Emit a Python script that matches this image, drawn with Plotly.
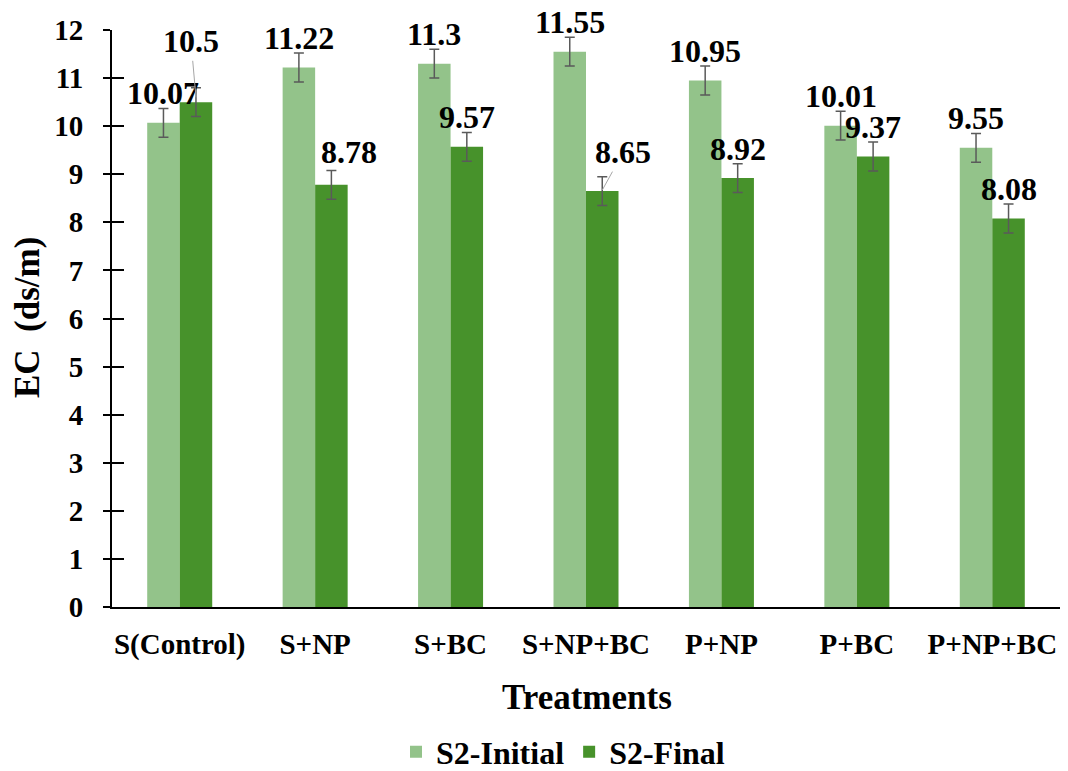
import plotly.graph_objects as go

categories = ["S(Control)", "S+NP", "S+BC", "S+NP+BC", "P+NP", "P+BC", "P+NP+BC"]
s2_initial = [10.07, 11.22, 11.30, 11.55, 10.95, 10.01, 9.55]
s2_final = [10.50, 8.78, 9.57, 8.65, 8.92, 9.37, 8.08]
err_initial = [0.3, 0.3, 0.3, 0.3, 0.3, 0.3, 0.3]
err_final = [0.3, 0.3, 0.3, 0.3, 0.3, 0.3, 0.3]

C_INIT = "#93C38A"
C_FINAL = "#47922B"
ERR_C = "#5A5A5A"
FONT = "Liberation Serif"
BARGAP = 0.52
OFF = (1 - BARGAP) / 4  # bar centre offset in category units

fig = go.Figure()
fig.add_trace(go.Bar(
    name="<b>S2-Initial</b>", x=list(range(len(categories))), y=s2_initial,
    marker=dict(color=C_INIT, line=dict(width=0)),
    error_y=dict(type="data", array=err_initial, color=ERR_C, thickness=1.5, width=5),
))
fig.add_trace(go.Bar(
    name="<b>S2-Final</b>", x=list(range(len(categories))), y=s2_final,
    marker=dict(color=C_FINAL, line=dict(width=0)),
    error_y=dict(type="data", array=err_final, color=ERR_C, thickness=1.5, width=5),
))
# helper trace for the inner half of the crossing y ticks
fig.add_trace(go.Scatter(x=[None], y=[None], yaxis="y2", showlegend=False, hoverinfo="skip"))

lab_font = dict(family=FONT, size=32, color="black")
ann = []
final_tweak = {1: (18, 18)}
final_arrow = {0: (10.6, -5, -56), 3: (8.67, 21, -38)}

for i, (v, e) in enumerate(zip(s2_initial, err_initial)):
    ann.append(dict(x=i - OFF, y=v + e, xref="x", yref="y", text=f"<b>{v:g}</b>",
                    showarrow=False, yanchor="middle", xanchor="center",
                    yshift=15, font=lab_font))
for i, (v, e) in enumerate(zip(s2_final, err_final)):
    if i in final_arrow:
        hy, axp, ayp = final_arrow[i]
        ann.append(dict(x=i + OFF, y=hy, xref="x", yref="y", text=f"<b>{v:g}</b>",
                        showarrow=True, arrowhead=0, arrowwidth=1, arrowcolor="#A6A6A6",
                        ax=axp, ay=ayp, standoff=0, font=lab_font))
    else:
        dx, dy = final_tweak.get(i, (0, 15))
        ann.append(dict(x=i + OFF, y=v + e, xref="x", yref="y", text=f"<b>{v:g}</b>",
                        showarrow=False, yanchor="middle", xanchor="center",
                        xshift=dx, yshift=dy, font=lab_font))

W, H = 1068, 771
ML, MR, MT, MB = 112, 8, 30, 164
pw, ph = W - ML - MR, H - MT - MB

title_font = dict(family=FONT, size=35, color="black")
ann.append(dict(x=(587 - ML) / pw, y=(H - 697 - MB) / ph, xref="paper", yref="paper",
                xanchor="center", yanchor="middle",
                text="<b>Treatments</b>", showarrow=False, font=title_font))
ann.append(dict(x=(27 - ML) / pw, y=(H - 318 - MB) / ph, xref="paper", yref="paper",
                xanchor="center", yanchor="middle",
                text="<b>EC  (ds/m)</b>", showarrow=False, textangle=-90, font=title_font))

tick_font = dict(family=FONT, size=29, color="black")
fig.update_layout(
    width=W, height=H,
    margin=dict(l=ML, r=MR, t=MT, b=MB, autoexpand=False),
    plot_bgcolor="white", paper_bgcolor="white",
    barmode="group", bargap=BARGAP, bargroupgap=0,
    font=dict(family=FONT, size=29, color="black"),
    xaxis=dict(
        tickmode="array", tickvals=list(range(len(categories))),
        ticktext=[f"<b>{c}</b>" for c in categories],
        range=[-0.5, len(categories) - 0.5],
        showline=True, linecolor="black", linewidth=2, ticks="",
        showgrid=False, zeroline=False, tickfont=tick_font,
        ticklabelstandoff=10,
    ),
    yaxis=dict(
        range=[0, 12], tickmode="array", tickvals=list(range(13)),
        ticktext=[f"<b>{t}</b>" for t in range(13)],
        showline=True, linecolor="black", linewidth=2,
        ticks="outside", ticklen=7, tickwidth=2, tickcolor="black",
        showgrid=False, zeroline=False, tickfont=tick_font,
        ticklabelstandoff=14,
    ),
    yaxis2=dict(
        range=[0, 12], dtick=1, overlaying="y", side="left", showline=False,
        ticks="inside", ticklen=12, tickwidth=2, tickcolor="black",
        showticklabels=False, showgrid=False, zeroline=False,
    ),
    legend=dict(
        orientation="h", x=(396 - ML) / pw, xanchor="left", y=(H - 752 - MB) / ph, yanchor="middle",
        font=dict(family=FONT, size=32, color="black"),
        itemwidth=30, tracegroupgap=0,
    ),
    annotations=ann,
    showlegend=True,
)

fig.write_html("out.html", config={"displayModeBar": False},
               post_script="document.body.style.margin='0';")
